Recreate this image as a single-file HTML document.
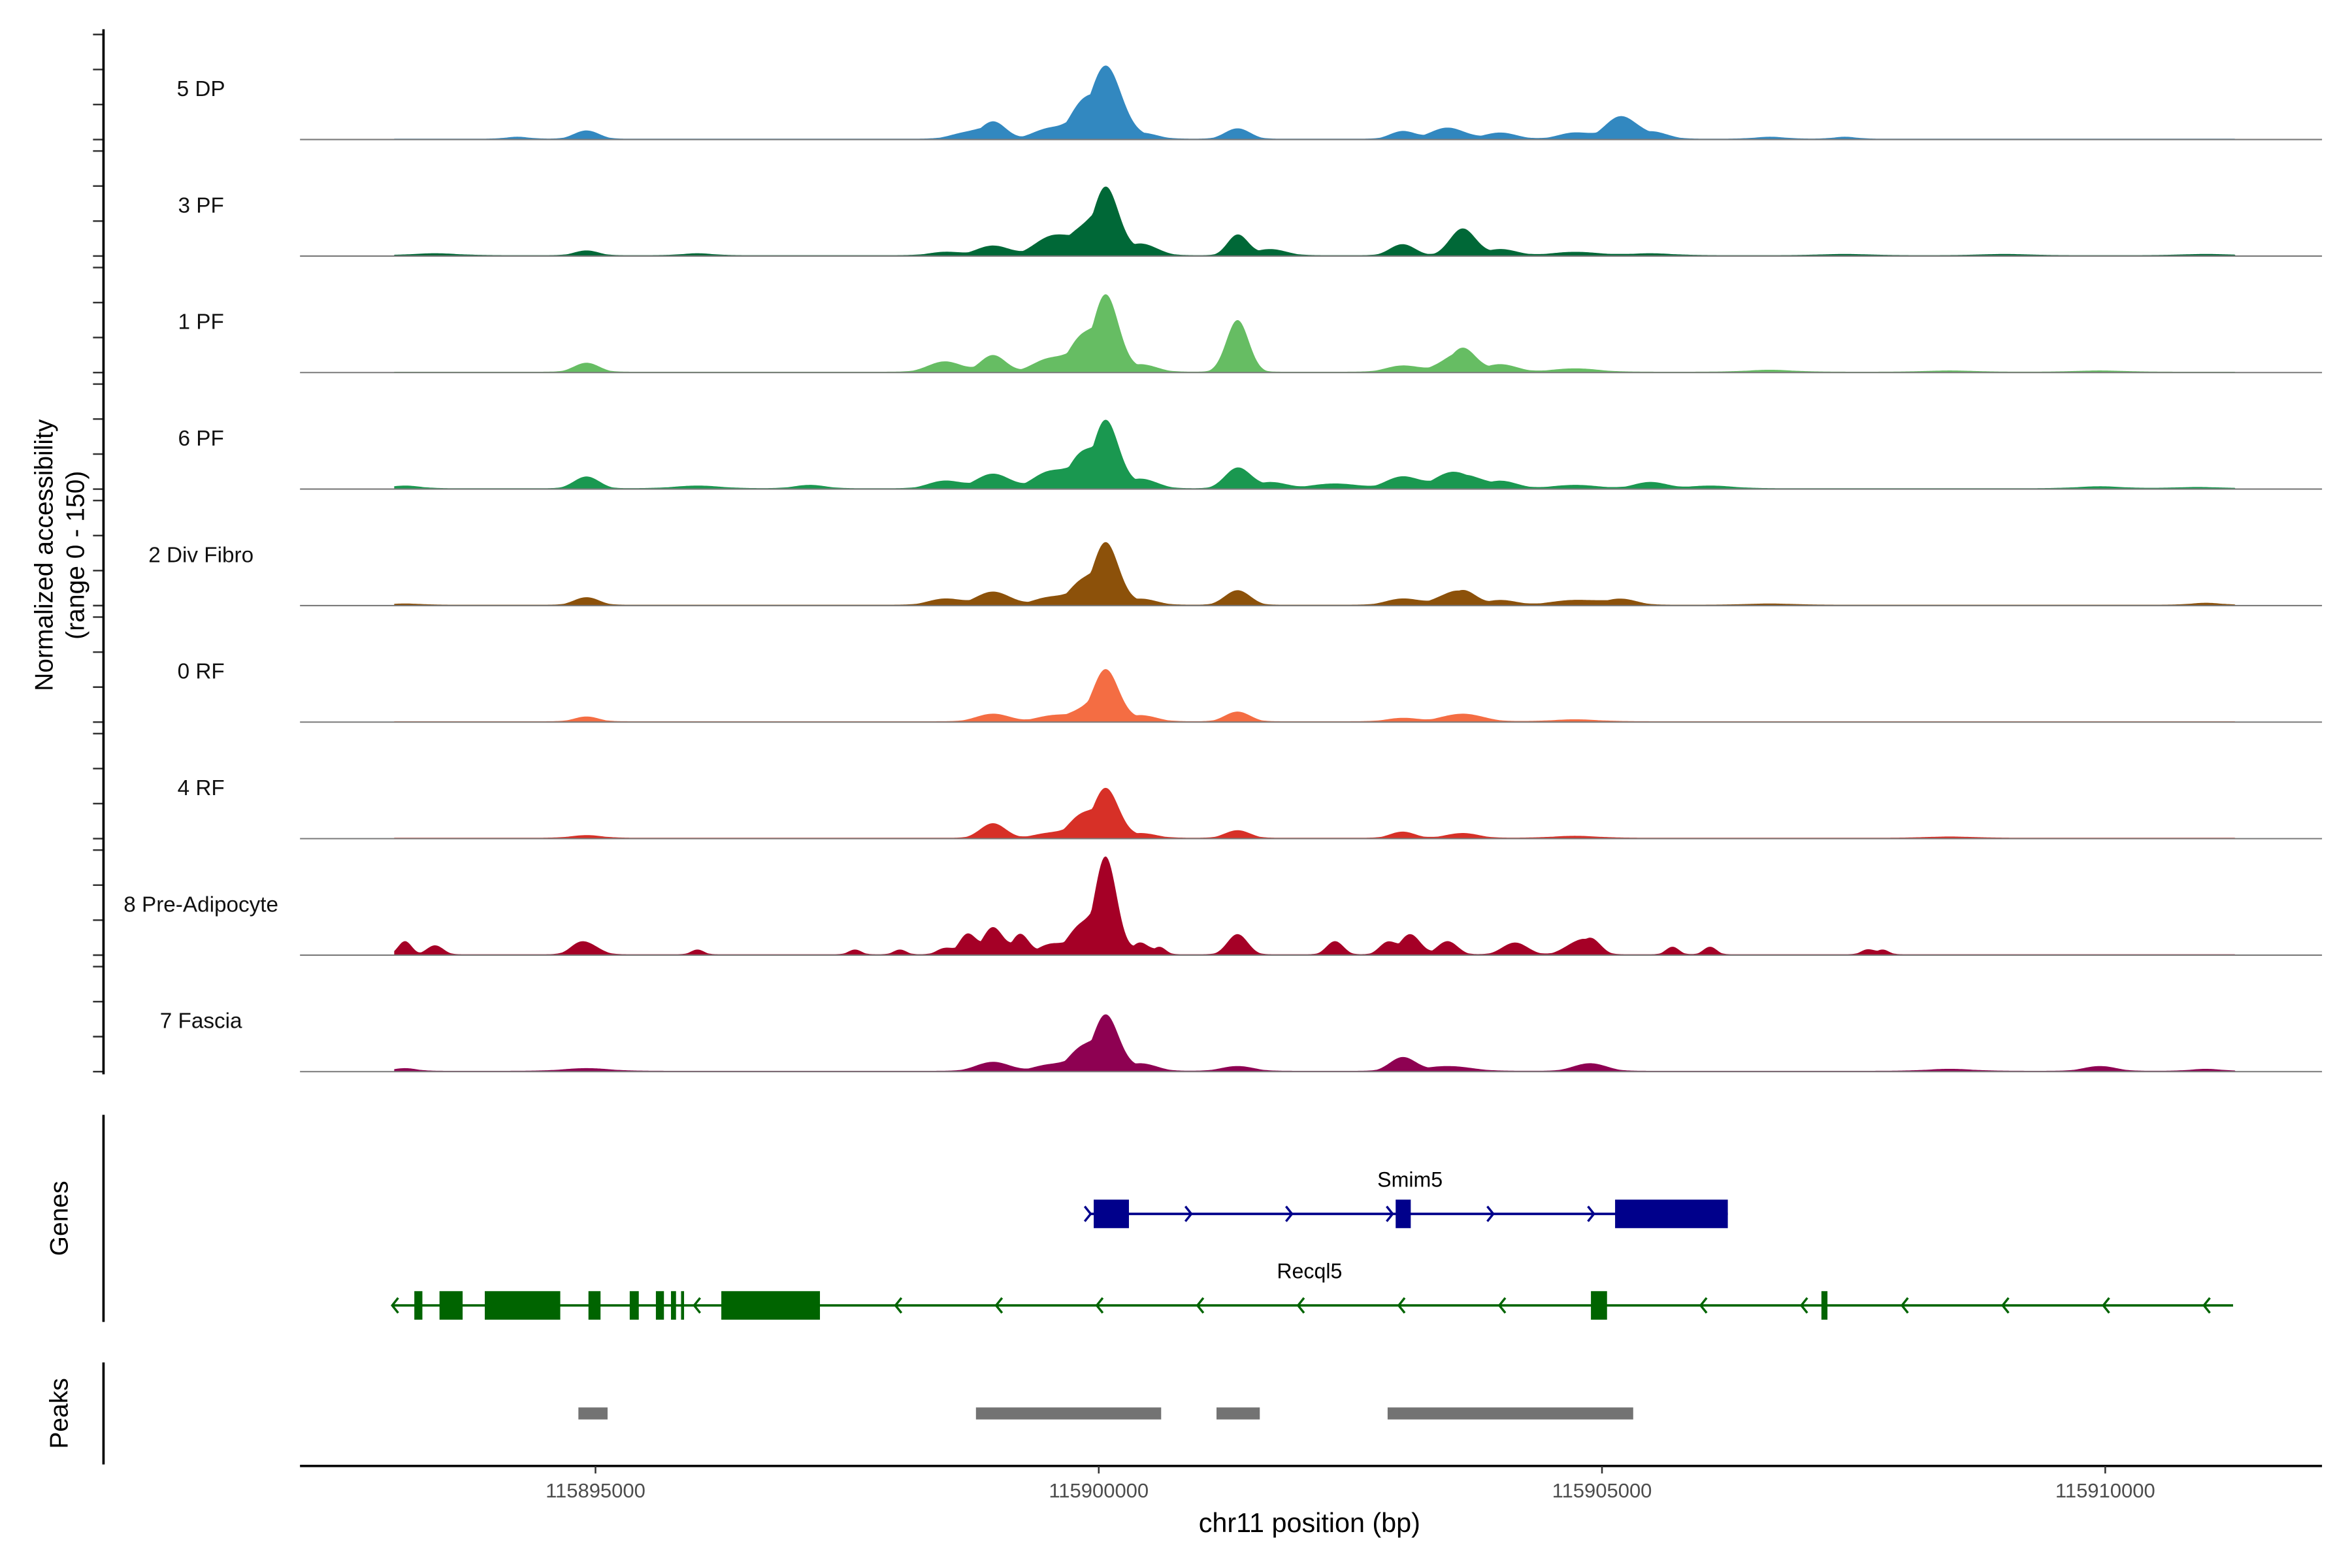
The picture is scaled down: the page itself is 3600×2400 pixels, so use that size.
<!DOCTYPE html>
<html><head><meta charset="utf-8">
<style>
html,body{margin:0;padding:0;background:#fff;}
svg{display:block;}
text{font-family:"Liberation Sans",Arial,sans-serif;}
</style></head>
<body>
<svg id="chart" xmlns="http://www.w3.org/2000/svg" width="3600" height="2400" viewBox="0 0 1568 1045" preserveAspectRatio="none">
<rect width="1568" height="1045" fill="#fff"/>
<g id="tracks"></g>
<g id="axes"></g>
<g id="genes"></g>
<g id="peaks"></g>
</svg>
<script>
// ---- data ----
const trackNames = ["5 DP","3 PF","1 PF","6 PF","2 Div Fibro","0 RF","4 RF","8 Pre-Adipocyte","7 Fascia"];
const trackColors = ["#3288c0","#006837","#66bd63","#1a9850","#8c510a","#f46d43","#d73027","#a50026","#8e0152"];
// peaks per track: [center bp, value (0-150), width bp]
const dp5 = [[115894225,4,150],[115894911,13,150],[115898696,10,200],[115898949,26,150],[115899516,16,200],[115899814,40,150],[115900067,105,180],[115900410,10,200],[115901379,16,150],[115903018,12,150],[115903465,17,200],[115903987,10,200],[115904732,10,200],[115905179,32,180],[115905477,12,200],[115906669,4,200],[115907414,4,150]];
const pf3 = [[115893405,4,300],[115894911,8,150],[115896013,4,200],[115898472,6,200],[115898949,15,200],[115899516,25,200],[115899814,35,200],[115900067,98,150],[115900410,18,200],[115901379,30,120],[115901700,10,200],[115903018,17,150],[115903614,39,150],[115903987,10,200],[115904732,6,300],[115905477,4,300],[115907414,3,300],[115909000,3,300],[115911000,3,300]];
const pf1 = [[115894911,14,150],[115898472,16,200],[115898949,25,150],[115899516,20,200],[115899814,45,150],[115900067,111,150],[115900410,12,200],[115901379,75,130],[115903018,10,200],[115903465,12,200],[115903614,35,150],[115903987,12,200],[115904732,6,300],[115906669,4,300],[115908457,3,300],[115909947,3,300]];
const pf6 = [[115893107,5,200],[115894911,18,150],[115896013,5,300],[115897131,6,200],[115898472,12,200],[115898949,22,200],[115899516,25,200],[115899814,45,150],[115900067,98,150],[115900410,15,200],[115901379,30,150],[115901700,10,200],[115902347,8,300],[115903018,18,200],[115903465,16,200],[115903614,20,200],[115903987,12,200],[115904732,6,300],[115905477,10,200],[115906073,5,300],[115909947,4,300],[115910916,3,300]];
const divfibro2 = [[115893107,3,200],[115894911,12,150],[115898472,10,200],[115898949,20,200],[115899516,12,200],[115899814,30,150],[115900067,90,150],[115900410,10,200],[115901379,22,150],[115903018,10,200],[115903465,12,200],[115903614,22,150],[115903987,8,200],[115904732,8,300],[115905179,10,200],[115906669,3,300],[115911000,4,200]];
const rf0 = [[115894911,8,150],[115898949,12,200],[115899516,8,200],[115899814,15,200],[115900067,75,150],[115900410,10,200],[115901379,15,150],[115903018,6,200],[115903614,12,250],[115904732,4,300]];
const rf4 = [[115894911,5,200],[115898949,22,150],[115899516,8,200],[115899814,30,150],[115900067,72,150],[115900410,8,200],[115901379,12,150],[115903018,10,150],[115903614,8,200],[115904732,4,300],[115908457,3,300]];
const preadipo8 = [[115893107,20,80],[115893405,14,100],[115894911,16,150],[115894821,10,100],[115896013,8,80],[115897578,8,80],[115898025,8,80],[115898472,10,100],[115898696,30,100],[115898949,40,120],[115899218,30,100],[115899516,15,150],[115899814,40,150],[115900067,141,130],[115900410,18,100],[115900600,12,80],[115901379,30,120],[115902347,20,100],[115902869,18,100],[115903093,30,120],[115903465,20,120],[115904136,18,150],[115904732,15,150],[115904881,25,120],[115905700,12,80],[115906073,12,80],[115907637,8,80],[115907786,8,80]];
const fascia7 = [[115893107,5,150],[115894911,5,300],[115898949,14,200],[115899516,10,200],[115899814,30,150],[115900067,81,150],[115900410,12,200],[115901379,8,200],[115903018,20,150],[115903465,8,300],[115904881,12,200],[115909947,8,200],[115908457,4,300],[115911000,4,200]];
const trackData = [dp5,pf3,pf1,pf6,divfibro2,rf0,rf4,preadipo8,fascia7];
const xTicks = [115895000,115900000,115905000,115910000];
const smim5Exons = [[115899950,115900300],[115902950,115903100],[115905130,115906250]];
const recql5Exons = [[115893200,115893280],[115893450,115893680],[115893900,115894650],[115894930,115895050],[115895340,115895430],[115895600,115895680],[115895750,115895800],[115895850,115895880],[115896250,115897230],[115904890,115905050],[115907180,115907240]];
const peakRegions = [[115894830,115895120],[115898780,115900620],[115901170,115901600],[115902870,115905310]];

// ---- scales ----
const X0=200, X1=1548;
const bp0=115895000, pxPerBp=335.5/5000, px0=397;
function xs(bp){return px0+(bp-bp0)*pxPerBp;}
const baseY0=93, trackStep=77.65, trackH=70, yMax=150;
function ys(i,v){return baseY0+i*trackStep - v*trackH/yMax;}
const NS="http://www.w3.org/2000/svg";
function mk(tag,attrs,parent){const e=document.createElementNS(NS,tag);for(const k in attrs)e.setAttribute(k,attrs[k]);parent.appendChild(e);return e;}
const gT=document.getElementById('tracks'), gA=document.getElementById('axes'), gG=document.getElementById('genes'), gP=document.getElementById('peaks');

const dataStart=115893000, dataEnd=115911300;
trackData.forEach((pk,i)=>{
  const base=ys(i,0);
  let d="M"+xs(dataStart).toFixed(1)+","+base;
  for(let px=xs(dataStart);px<=xs(dataEnd);px+=1){
    const bp=bp0+(px-px0)/pxPerBp;
    let v=1.2;
    pk.forEach(p=>{const s=p[2]*0.85;const t=p[1]*Math.exp(-0.5*((bp-p[0])/s)**2);v+=t*0.55;if(t>v)v=t;});
    d+=" L"+px.toFixed(1)+","+ys(i,v).toFixed(2);
  }
  d+=" L"+xs(dataEnd).toFixed(1)+","+base+" Z";
  const a=mk('path',{d:d,fill:trackColors[i]},gT);
  
  
  const bl=mk('line',{x1:X0,x2:X1,y1:base,y2:base,stroke:'#7a7a7a','stroke-width':0.9},gT);
  
  
  const lb=mk('text',{x:134,y:base-29,'font-size':14.5,'text-anchor':'middle',fill:'#111'},gT);
  lb.textContent=trackNames[i];
  
  
  [0,50,100,150].forEach(v=>{
    const t=mk('line',{x1:62,x2:69,y1:ys(i,v),y2:ys(i,v),stroke:'#333','stroke-width':1.1},gA);
    
    
  });
});
let ax=mk('line',{x1:69,x2:69,y1:19.5,y2:716,stroke:'#000','stroke-width':1.6},gA);


let yt=mk('text',{transform:'translate(35,370) rotate(-90)','font-size':17,'text-anchor':'middle',fill:'#000'},gA);
yt.textContent='Normalized accessibility';


let yt2=mk('text',{transform:'translate(56,370) rotate(-90)','font-size':17,'text-anchor':'middle',fill:'#000'},gA);
yt2.textContent='(range 0 - 150)';



let ga=mk('line',{x1:69,x2:69,y1:743,y2:881,stroke:'#000','stroke-width':1.6},gG);


let gl=mk('text',{transform:'translate(45,812) rotate(-90)','font-size':17,'text-anchor':'middle',fill:'#000'},gG);
gl.textContent='Genes';


function gene(name,start,end,y,color,exons,dir,labelX,labelY){
  const g=mk('g',{},gG);
  
  
  mk('line',{x1:xs(start),x2:xs(end),y1:y,y2:y,stroke:color,'stroke-width':1.6},g);
  exons.forEach(e=>{
    const r=mk('rect',{x:xs(e[0]),y:y-9.5,width:xs(e[1])-xs(e[0]),height:19,fill:color},g);
    
    
  });
  for(let bp=start; bp<=end; bp+=1000){
    const x=xs(bp);
    mk('polyline',{points:(x-dir*4)+","+(y-5)+" "+x+","+y+" "+(x-dir*4)+","+(y+5),fill:'none',stroke:color,'stroke-width':1.5},g);
  }
  const t=mk('text',{x:labelX,y:labelY,'font-size':14,'text-anchor':'middle',fill:'#000'},g);
  t.textContent=name;
  
  
}
gene('Smim5',115899920,115906250,809,'#00008b',smim5Exons,1,940,791);
gene('Recql5',115892980,115911270,870,'#006400',recql5Exons,-1,873,852);

let pa=mk('line',{x1:69,x2:69,y1:908,y2:976,stroke:'#000','stroke-width':1.6},gP);


let pl=mk('text',{transform:'translate(45,942) rotate(-90)','font-size':17,'text-anchor':'middle',fill:'#000'},gP);
pl.textContent='Peaks';


peakRegions.forEach(p=>{
  const r=mk('rect',{x:xs(p[0]),y:938,width:xs(p[1])-xs(p[0]),height:8,fill:'#737373'},gP);
  
  
});
let xa=mk('line',{x1:X0,x2:X1,y1:977,y2:977,stroke:'#000','stroke-width':1.6},gP);


xTicks.forEach(t=>{
  const tk=mk('line',{x1:xs(t),x2:xs(t),y1:977,y2:982,stroke:'#333','stroke-width':1.1},gP);
  
  
  const lb=mk('text',{x:xs(t),y:998,'font-size':13.5,'text-anchor':'middle',fill:'#4d4d4d'},gP);
  lb.textContent=String(t);
  
  
});
let xt=mk('text',{x:873,y:1021,'font-size':18,'text-anchor':'middle',fill:'#000'},gP);
xt.textContent='chr11 position (bp)';


</script>
</body></html>
